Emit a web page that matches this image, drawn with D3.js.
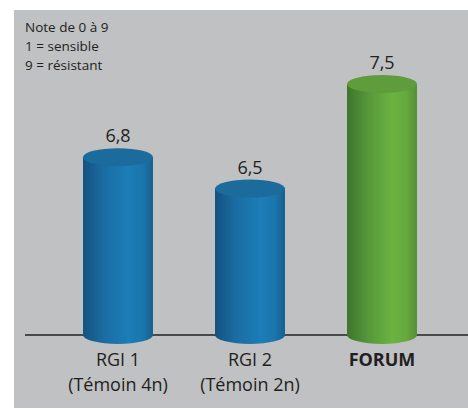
<!DOCTYPE html>
<html>
<head>
<meta charset="utf-8">
<script src="https://cdn.jsdelivr.net/npm/d3@7"></script>
<style>
  body { margin: 0; background: #fff; }
  text { font-family: "Open Sans", "Noto Sans", sans-serif; }
</style>
</head>
<body>
<div id="mount"></div>
<script>
'use strict';

// chart values
const categories = ['RGI 1', 'RGI 2', 'FORUM'];
const subLabels  = ['(Témoin 4n)', '(Témoin 2n)', ''];
const values     = [6.8, 6.5, 7.5];
const noteLines  = ['Note de 0 à 9', '1 = sensible', '9 = résistant'];

const width = 468, height = 410;
const baseY = 335;

const svg = d3.select('#mount').append('svg')
    .attr('width', width)
    .attr('height', height);

// gradients for the cylinder bodies
const defs = svg.append('defs');
const palettes = {
  blue:  { stops: ['#15527f', '#1a6da3', '#1c7db7', '#1a76ad', '#165f8f'], top: '#1b6b9c' },
  green: { stops: ['#3d752c', '#56973a', '#6cb341', '#65a83d', '#568f35'], top: '#5f9c3b' }
};
Object.entries(palettes).forEach(([name, p]) => {
  const g = defs.append('linearGradient')
      .attr('id', 'grad-' + name)
      .attr('x1', '0%').attr('x2', '100%').attr('y1', '0%').attr('y2', '0%');
  const offs = [0, 0.3, 0.65, 0.85, 1];
  p.stops.forEach((c, i) => g.append('stop').attr('offset', offs[i]).attr('stop-color', c));
});

// grey panel
svg.append('rect')
    .attr('x', 14).attr('y', 10)
    .attr('width', width - 14).attr('height', 398)
    .attr('fill', '#bfc1c3');

// scales
const x = d3.scaleBand()
    .domain(categories)
    .range([52, 448])
    .paddingInner(0.47)
    .paddingOuter(0.235);

const y = d3.scaleLinear()
    .domain([5.1, 7.5])
    .range([baseY, 84]);

const fmt = d3.formatLocale({ decimal: ',', thousands: ' ', grouping: [3], currency: ['', '€'] }).format('.1f');

// baseline
svg.append('line')
    .attr('x1', 25).attr('x2', width)
    .attr('y1', baseY).attr('y2', baseY)
    .attr('stroke', '#222')
    .attr('stroke-width', 1.5);

const ry = 9;
const data = categories.map((c, i) => ({ cat: c, sub: subLabels[i], value: values[i], pal: c === 'FORUM' ? 'green' : 'blue' }));

const bar = svg.selectAll('g.bar')
    .data(data)
  .enter().append('g')
    .attr('class', 'bar');

// body: rect from top ellipse centre down to baseline, plus bottom half-ellipse
bar.append('path')
    .attr('d', d => {
      const x0 = x(d.cat), x1 = x0 + x.bandwidth(), rx = x.bandwidth() / 2;
      const yt = y(d.value);
      return `M${x0},${yt} L${x0},${baseY} A${rx},${ry} 0 0 0 ${x1},${baseY} L${x1},${yt} Z`;
    })
    .attr('fill', d => `url(#grad-${d.pal})`);

// top ellipse
bar.append('ellipse')
    .attr('cx', d => x(d.cat) + x.bandwidth() / 2)
    .attr('cy', d => y(d.value))
    .attr('rx', x.bandwidth() / 2)
    .attr('ry', ry)
    .attr('fill', d => palettes[d.pal].top);

// value labels
bar.append('text')
    .attr('x', d => x(d.cat) + x.bandwidth() / 2)
    .attr('y', d => y(d.value) - ry - 6)
    .attr('text-anchor', 'middle')
    .attr('font-size', 18)
    .attr('fill', '#231f20')
    .text(d => fmt(d.value));

// category labels, two lines
bar.append('text')
    .attr('x', d => x(d.cat) + x.bandwidth() / 2)
    .attr('y', 366)
    .attr('text-anchor', 'middle')
    .attr('font-size', 18)
    .attr('font-weight', d => d.cat === 'FORUM' ? 'bold' : 'normal')
    .attr('fill', '#231f20')
    .text(d => d.cat);

bar.filter(d => d.sub).append('text')
    .attr('x', d => x(d.cat) + x.bandwidth() / 2)
    .attr('y', 390.5)
    .attr('text-anchor', 'middle')
    .attr('font-size', 18)
    .attr('fill', '#231f20')
    .text(d => d.sub);

// note in the top-left corner
svg.append('g').selectAll('text')
    .data(noteLines)
  .enter().append('text')
    .attr('x', 25)
    .attr('y', (d, i) => 32 + i * 19)
    .attr('font-size', 13.5)
    .attr('fill', '#231f20')
    .text(d => d);
</script>
</body>
</html>
